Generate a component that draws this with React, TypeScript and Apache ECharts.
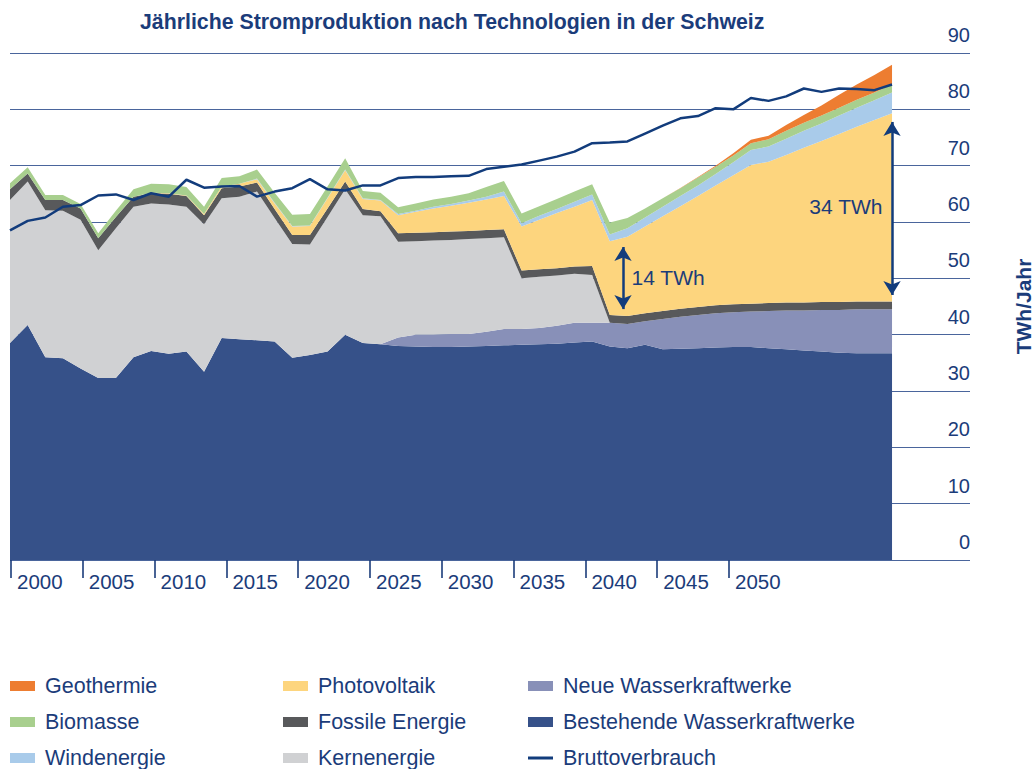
import React, { useEffect, useRef } from 'react';
import * as echarts from 'echarts';

const years = [
  2000, 2001, 2002, 2003, 2004, 2005, 2006, 2007, 2008, 2009,
  2010, 2011, 2012, 2013, 2014, 2015, 2016, 2017, 2018, 2019,
  2020, 2021, 2022, 2023, 2024, 2025, 2026, 2027, 2028, 2029,
  2030, 2031, 2032, 2033, 2034, 2035, 2036, 2037, 2038, 2039,
  2040, 2041, 2042, 2043, 2044, 2045, 2046, 2047, 2048, 2049, 2050,
];

const bestehendeWasser = [
  38.5, 41.7, 36.0, 35.8, 34.0, 32.3, 32.3, 36.0, 37.1, 36.6,
  37.0, 33.4, 39.4, 39.2, 39.0, 38.8, 35.9, 36.4, 37.0, 40.0,
  38.5, 38.3, 38.0, 37.9, 37.8, 37.8, 37.9, 38.0, 38.1, 38.2,
  38.3, 38.4, 38.6, 38.8, 37.9, 37.6, 38.2, 37.4, 37.5, 37.6,
  37.7, 37.8, 37.8, 37.6, 37.4, 37.2, 37.0, 36.8, 36.7, 36.7, 36.7,
];

const neueWasser = [
  0, 0, 0, 0, 0, 0, 0, 0, 0, 0,
  0, 0, 0, 0, 0, 0, 0, 0, 0, 0,
  0, 0, 1.5, 2.1, 2.2, 2.3, 2.2, 2.5, 2.9, 2.8,
  2.9, 3.2, 3.5, 3.3, 4.2, 4.3, 4.2, 5.4, 5.7, 5.9,
  6.1, 6.2, 6.3, 6.6, 6.9, 7.1, 7.4, 7.6, 7.8, 7.8, 7.8,
];

const kernenergie = [
  25.4, 25.5, 26.1, 26.2, 26.4, 22.7, 26.6, 26.7, 26.2, 26.5,
  25.7, 26.2, 24.8, 25.3, 26.4, 21.9, 20.2, 19.6, 23.9, 25.8,
  22.7, 22.7, 17.0, 16.6, 16.7, 16.7, 16.9, 16.6, 16.3, 9.0,
  9.1, 8.9, 8.7, 8.5, 0, 0, 0, 0, 0, 0,
  0, 0, 0, 0, 0, 0, 0, 0, 0, 0, 0,
];

const fossil = [
  1.9, 1.4, 1.8, 1.9, 2.0, 2.1, 2.0, 1.8, 1.8, 1.9,
  1.9, 1.6, 1.8, 1.8, 1.6, 1.6, 1.6, 1.7, 1.5, 1.4,
  1.1, 0.9, 1.5, 1.5, 1.5, 1.5, 1.4, 1.5, 1.4, 1.4,
  1.3, 1.3, 1.3, 1.6, 1.4, 1.4, 1.4, 1.4, 1.4, 1.4,
  1.4, 1.4, 1.4, 1.4, 1.4, 1.4, 1.4, 1.4, 1.4, 1.4, 1.4,
];

const photovoltaik = [
  0, 0, 0, 0, 0, 0, 0, 0, 0.1, 0.1,
  0.1, 0.2, 0.3, 0.5, 0.6, 1.0, 1.5, 1.6, 1.8, 2.0,
  1.8, 1.9, 3.2, 3.7, 4.2, 4.6, 5.0, 5.4, 5.9, 7.8,
  8.8, 9.8, 10.6, 11.7, 13.1, 14.1, 15.4, 16.8, 18.2, 19.7,
  21.3, 22.9, 24.6, 25.1, 26.2, 27.5, 28.6, 29.8, 31.0, 32.2, 33.4,
];

const windenergie = [
  0, 0, 0, 0, 0, 0, 0, 0, 0, 0,
  0, 0, 0, 0, 0.1, 0.1, 0.1, 0.1, 0.1, 0.1,
  0.1, 0.1, 0.2, 0.2, 0.3, 0.3, 0.4, 0.5, 0.8, 0.6,
  0.7, 0.7, 0.9, 1.0, 1.2, 1.5, 1.6, 1.7, 1.8, 1.9,
  2.0, 2.3, 2.7, 2.7, 2.9, 3.0, 3.1, 3.3, 3.4, 3.5, 3.7,
];

const biomasse = [
  1.1, 1.1, 0.9, 0.9, 0.8, 0.9, 1.1, 1.3, 1.6, 1.6,
  1.5, 1.3, 1.5, 1.3, 1.6, 1.8, 2.0, 2.0, 2.0, 2.0,
  1.3, 1.3, 1.2, 1.3, 1.3, 1.3, 1.3, 1.7, 1.9, 1.7,
  1.7, 1.8, 1.8, 1.8, 2.1, 1.8, 1.6, 1.5, 1.4, 1.4,
  1.3, 1.2, 1.2, 1.3, 1.4, 1.4, 1.4, 1.4, 1.4, 1.4, 1.4,
];

const geothermie = [
  0, 0, 0, 0, 0, 0, 0, 0, 0, 0,
  0, 0, 0, 0, 0, 0, 0, 0, 0, 0,
  0, 0, 0, 0, 0, 0, 0, 0, 0, 0,
  0, 0, 0, 0, 0, 0, 0, 0, 0.05, 0.1,
  0.2, 0.4, 0.6, 0.6, 1.0, 1.4, 1.8, 2.3, 2.7, 3.1, 3.5,
];

const bruttoverbrauch = [
  58.5, 60.2, 60.8, 62.7, 63.0, 64.7, 64.9, 63.9, 65.1, 64.5,
  67.5, 66.1, 66.3, 66.4, 64.5, 65.4, 66.0, 67.6, 65.8, 65.6,
  66.5, 66.5, 67.8, 68.0, 68.0, 68.1, 68.2, 69.4, 69.8, 70.2,
  70.9, 71.6, 72.5, 74.0, 74.1, 74.3, 75.7, 77.1, 78.4, 78.8,
  80.2, 80.0, 82.0, 81.5, 82.3, 83.7, 83.1, 83.7, 83.6, 83.4, 84.4,
];

const tickYears = [2000, 2050];
const yTicks = [0, 90, 10];
const plotEndYear = 2054.42;

const arrowNotes = [
  { year: 2034.75, from: 43.3, to: 56.8, labelValue: 50.2, text: '14 TWh', side: 'right' },
  { year: 2050, from: 45.8, to: 79.0, labelValue: 62.7, text: '34 TWh', side: 'left' },
];

const NAVY = '#1b3c7a';
const ARROW = '#123c7c';
const GRID = '#4a659c';
const FONT = "'Liberation Sans', Arial, Helvetica, sans-serif";

const COLORS = {
  bestehende: '#365189',
  neue: '#8890b8',
  kern: '#d0d1d3',
  fossil: '#58595b',
  pv: '#fdd57e',
  wind: '#a9cbea',
  bio: '#a8cf8e',
  geo: '#ed7d31',
  line: '#123c7c',
};

const YEAR_MS = 365.25 * 24 * 3600 * 1000;
const yearTs = (y: number) => {
  const whole = Math.floor(y);
  return Date.UTC(whole, 0, 1) + (y - whole) * YEAR_MS;
};

export default function App() {
  const ref = useRef<HTMLDivElement>(null);

  useEffect(() => {
    if (!ref.current) return;
    const chart = echarts.init(ref.current, undefined, { renderer: 'svg', width: 1034, height: 769 });
    const pairs = (arr: number[]) => years.map((y, i) => [yearTs(y), arr[i]]);
    const area = (name: string, color: string, arr: number[]) => ({
      name,
      type: 'line',
      stack: 'prod',
      color,
      data: pairs(arr),
      symbol: 'none',
      showSymbol: false,
      silent: true,
      xAxisIndex: 0,
      yAxisIndex: 0,
      lineStyle: { width: 0, opacity: 0 },
      itemStyle: { color },
      areaStyle: { color, opacity: 1 },
      emphasis: { disabled: true },
    });

    const tipPad = 1.24; // half arrow-head height in TWh
    const legendBase = {
      orient: 'vertical',
      top: 675,
      height: 120,
      itemGap: 14,
      itemWidth: 25,
      itemHeight: 10,
      padding: 0,
      icon: 'rect',
      selectedMode: false,
      itemStyle: { borderWidth: 0 },
      textStyle: {
        color: NAVY,
        fontSize: 21.5,
        lineHeight: 20,
        fontFamily: FONT,
        padding: [0, 0, 0, 5],
      },
    };

    chart.setOption({
      animation: false,
      textStyle: { fontFamily: FONT },
      title: {
        text: 'Jährliche Stromproduktion nach Technologien in der Schweiz',
        left: 140,
        top: 11,
        padding: 0,
        textStyle: { color: NAVY, fontSize: 21.3, fontWeight: 'bold', fontFamily: FONT },
      },
      legend: [
        { ...legendBase, left: 10, data: ['Geothermie', 'Biomasse', 'Windenergie'] },
        { ...legendBase, left: 283, data: ['Photovoltaik', 'Fossile Energie', 'Kernenergie'] },
        {
          ...legendBase,
          left: 528,
          data: [
            'Neue Wasserkraftwerke',
            'Bestehende Wasserkraftwerke',
            { name: 'Bruttoverbrauch', icon: 'path://M0,0H25V3H0Z' },
          ],
        },
      ],
      grid: [
        { left: 10, right: 64, top: 53, bottom: 209, outerBoundsMode: 'none', containLabel: false },
        { left: 11, right: 305, top: 53, bottom: 209, outerBoundsMode: 'none', containLabel: false },
      ],
      xAxis: [
        { type: 'time', gridIndex: 0, min: yearTs(2000), max: yearTs(plotEndYear), show: false },
        {
          type: 'value',
          gridIndex: 1,
          min: tickYears[0],
          max: tickYears[1],
          interval: 5,
          offset: 12,
          axisLine: { show: false },
          splitLine: { show: false },
          axisTick: { show: true, length: 18, lineStyle: { color: NAVY, width: 1.6 } },
          axisLabel: {
            show: true,
            align: 'left',
            margin: -1,
            padding: [0, 0, 0, 6],
            color: NAVY,
            fontSize: 20.5,
            fontFamily: FONT,
            showMinLabel: true,
            showMaxLabel: true,
            formatter: (v: number) => String(v),
          },
        },
      ],
      yAxis: [
        {
          type: 'value',
          gridIndex: 0,
          position: 'right',
          min: yTicks[0],
          max: yTicks[1],
          interval: yTicks[2],
          name: 'TWh/Jahr',
          nameLocation: 'middle',
          nameRotate: 90,
          nameGap: 43,
          nameTextStyle: { color: NAVY, fontSize: 21, fontWeight: 'bold', fontFamily: FONT },
          axisLine: { show: false },
          axisTick: { show: false },
          splitLine: { show: true, lineStyle: { color: GRID, width: 1 } },
          axisLabel: {
            inside: true,
            margin: 0,
            verticalAlign: 'bottom',
            lineHeight: 20,
            padding: [0, 0, 8, 0],
            color: NAVY,
            fontSize: 20,
            fontFamily: FONT,
          },
        },
        { type: 'value', gridIndex: 1, min: 0, max: 1, show: false },
      ],
      series: [
        area('Bestehende Wasserkraftwerke', COLORS.bestehende, bestehendeWasser),
        area('Neue Wasserkraftwerke', COLORS.neue, neueWasser),
        area('Kernenergie', COLORS.kern, kernenergie),
        area('Fossile Energie', COLORS.fossil, fossil),
        area('Photovoltaik', COLORS.pv, photovoltaik),
        area('Windenergie', COLORS.wind, windenergie),
        area('Biomasse', COLORS.bio, biomasse),
        area('Geothermie', COLORS.geo, geothermie),
        {
          name: 'Bruttoverbrauch',
          type: 'line',
          color: COLORS.line,
          data: pairs(bruttoverbrauch),
          symbol: 'none',
          showSymbol: false,
          silent: true,
          xAxisIndex: 0,
          yAxisIndex: 0,
          z: 5,
          lineStyle: { color: COLORS.line, width: 2.5 },
          itemStyle: { color: COLORS.line },
          emphasis: { disabled: true },
          markLine: {
            silent: true,
            symbol: ['arrow', 'arrow'],
            symbolSize: [13, 14],
            lineStyle: { color: ARROW, width: 2.5, type: 'solid' },
            itemStyle: { color: ARROW },
            label: { show: false },
            emphasis: { disabled: true },
            data: arrowNotes.map((a) => [
              { coord: [yearTs(a.year), a.from + tipPad] },
              { coord: [yearTs(a.year), a.to - tipPad] },
            ]),
          },
          markPoint: {
            silent: true,
            symbol: 'circle',
            symbolSize: 1,
            itemStyle: { color: 'rgba(0,0,0,0)' },
            data: arrowNotes.map((a) => ({
              coord: [yearTs(a.year), a.labelValue],
              label: {
                show: true,
                position: a.side,
                distance: a.side === 'right' ? 8 : 9,
                formatter: a.text,
                color: NAVY,
                fontSize: 21,
                fontFamily: FONT,
              },
            })),
          },
        },
      ],
    });

    return () => chart.dispose();
  }, []);

  return (
    <div
      ref={ref}
      style={{ position: 'fixed', left: 0, top: 0, width: 1034, height: 769, background: '#ffffff' }}
    />
  );
}
